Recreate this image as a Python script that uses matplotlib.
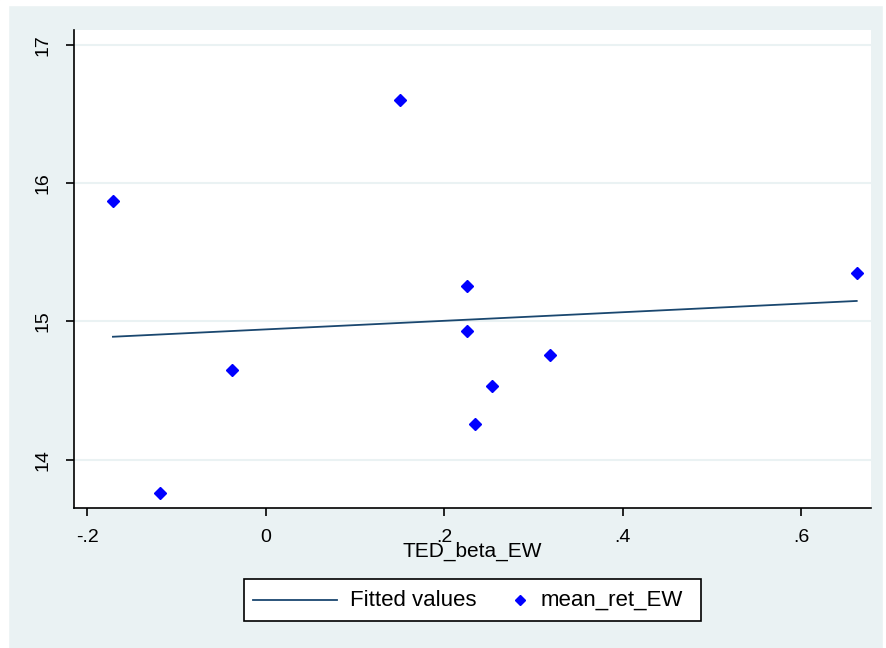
import numpy as np
import matplotlib.pyplot as plt
from matplotlib.lines import Line2D
from matplotlib.patches import Rectangle

# TED_beta_EW vs mean_ret_EW
ted_beta_ew = [-0.171, -0.118, -0.038, 0.151, 0.225, 0.225, 0.234, 0.254, 0.319, 0.662]
mean_ret_ew = [15.87, 13.76, 14.65, 16.60, 15.26, 14.93, 14.26, 14.53, 14.76, 15.35]

x_ticks = [-0.2, 0, 0.2, 0.4, 0.6]
x_tick_labels = ['-.2', '0', '.2', '.4', '.6']
y_ticks = [14, 15, 16, 17]
legend_labels = ['Fitted values', 'mean_ret_EW']

bg = '#EAF2F3'
navy = '#1A476F'
W, H = 887, 648

plt.rcParams['font.family'] = ['Liberation Sans', 'DejaVu Sans']


def fx(px):
    return px / W


def fy(py):
    return 1 - py / H


fig = plt.figure(figsize=(W / 100, H / 100), dpi=100)
fig.patch.set_facecolor(bg)
# white screenshot margins
fig.add_artist(Rectangle((0, 0), fx(8), 1, transform=fig.transFigure, color='white', zorder=-1))
fig.add_artist(Rectangle((0, fy(5)), 1, 5 / H, transform=fig.transFigure, color='white', zorder=-1))
fig.add_artist(Rectangle((fx(883), 0), 4 / W, 1, transform=fig.transFigure, color='white', zorder=-1))

ax = fig.add_axes([fx(74), fy(508), (871 - 74) / W, (508 - 30) / H])
ax.set_facecolor('white')

# linear fit (Stata lfit)
x = np.array(ted_beta_ew)
y = np.array(mean_ret_ew)
b, a = np.polyfit(x, y, 1)
xf = np.array([x.min(), x.max()])
ax.plot(xf, a + b * xf, color=navy, lw=1.3, zorder=3)
ax.plot(x, y, 'D', color='#0000FF', ms=6, mec='#0000FF', zorder=4)

ax.set_xlim(-0.2146, 0.678)
ax.set_ylim(13.65, 17.11)
ax.set_xticks(x_ticks)
ax.set_xticklabels(x_tick_labels)
ax.set_yticks(y_ticks)
ax.set_yticklabels([str(t) for t in y_ticks], rotation=90, va='center')

ax.grid(axis='y', color=bg, lw=1.5)
ax.set_axisbelow(True)
for s in ['top', 'right']:
    ax.spines[s].set_visible(False)
for s in ['left', 'bottom']:
    ax.spines[s].set_color('black')
    ax.spines[s].set_linewidth(1.2)
ax.tick_params(axis='both', direction='out', length=6, width=1.2, labelsize=14, color='black')
ax.tick_params(axis='x', pad=9)
ax.tick_params(axis='y', pad=10)

ax.set_xlabel('TED_beta_EW', fontsize=15, labelpad=-3)

# legend box drawn by hand (Stata layout)
fig.add_artist(Rectangle((fx(244), fy(621)), (701 - 244) / W, (621 - 579) / H,
                         transform=fig.transFigure, facecolor='white',
                         edgecolor='black', lw=1.2))
fig.add_artist(Line2D([fx(253), fx(337)], [fy(600), fy(600)], color=navy, lw=1.3))
fig.text(fx(350), fy(600), legend_labels[0], fontsize=16, va='center', ha='left')
fig.add_artist(Line2D([fx(520)], [fy(600)], marker='D', ls='none', color='#0000FF', ms=5.5))
fig.text(fx(541), fy(600), legend_labels[1], fontsize=16, va='center', ha='left')

fig.savefig('out.png', dpi=100, facecolor=fig.get_facecolor())
